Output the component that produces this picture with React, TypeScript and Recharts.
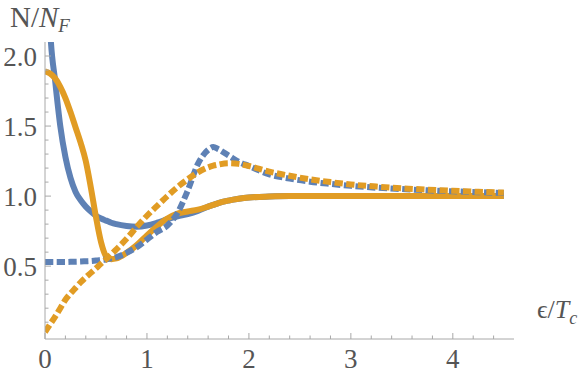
import React from 'react';
import { LineChart, Line, XAxis, YAxis } from 'recharts';

// energy grid (epsilon / T_c)
const eps = [
  0, 0.05, 0.1, 0.15, 0.2, 0.25, 0.3, 0.35, 0.4, 0.45, 0.5, 0.55, 0.6, 0.65, 0.7,
  0.8, 0.9, 1.0, 1.1, 1.2, 1.3, 1.4, 1.5, 1.6, 1.65, 1.7, 1.8, 1.9, 2.0,
  2.2, 2.4, 2.6, 2.8, 3.0, 3.25, 3.5, 3.75, 4.0, 4.25, 4.5,
];

const blueSolid = [
  3.6, 2.2, 1.82, 1.5, 1.28, 1.13, 1.03, 0.97, 0.925, 0.89, 0.86, 0.84, 0.825, 0.81, 0.8,
  0.787, 0.782, 0.79, 0.81, 0.835, 0.855, 0.872, 0.895, 0.925, 0.937, 0.95, 0.968, 0.981, 0.99,
  0.997, 1.0, 1.0, 1.0, 1.0, 1.0, 1.0, 1.0, 1.0, 1.0, 1.0,
];

const orangeSolid = [
  1.89, 1.875, 1.84, 1.78, 1.7, 1.6, 1.49, 1.38, 1.25, 1.06, 0.85, 0.67, 0.57, 0.55, 0.555,
  0.595, 0.65, 0.72, 0.785, 0.84, 0.875, 0.89, 0.903, 0.925, 0.937, 0.95, 0.968, 0.981, 0.99,
  0.997, 1.0, 1.0, 1.0, 1.0, 1.0, 1.0, 1.0, 1.0, 1.0, 1.0,
];

const blueDashed = [
  0.53, 0.53, 0.53, 0.53, 0.53, 0.531, 0.532, 0.533, 0.535, 0.537, 0.54, 0.544, 0.548, 0.555, 0.565,
  0.595, 0.635, 0.69, 0.745, 0.79, 0.88, 1.04, 1.23, 1.33, 1.35, 1.335, 1.29, 1.245, 1.215,
  1.155, 1.125, 1.103, 1.087, 1.073, 1.06, 1.05, 1.041, 1.034, 1.028, 1.022,
];

const orangeDashed = [
  0.03, 0.085, 0.14, 0.2, 0.26, 0.305, 0.345, 0.385, 0.42, 0.452, 0.485, 0.518, 0.55, 0.585, 0.62,
  0.695, 0.78, 0.86, 0.93, 1.0, 1.065, 1.12, 1.17, 1.205, 1.217, 1.225, 1.235, 1.23, 1.215,
  1.175, 1.145, 1.12, 1.1, 1.083, 1.068, 1.056, 1.046, 1.038, 1.031, 1.025,
];

const xTicks = [
  0, 0.2, 0.4, 0.6, 0.8, 1, 1.2, 1.4, 1.6, 1.8, 2, 2.2, 2.4, 2.6, 2.8, 3,
  3.2, 3.4, 3.6, 3.8, 4, 4.2, 4.4,
];
const yTicks = [
  0.1, 0.2, 0.3, 0.4, 0.5, 0.6, 0.7, 0.8, 0.9, 1.0, 1.1, 1.2, 1.3, 1.4, 1.5,
  1.6, 1.7, 1.8, 1.9, 2.0,
];

const data = eps.map((x, i) => ({
  x,
  bs: blueSolid[i],
  os: orangeSolid[i],
  bd: blueDashed[i],
  od: orangeDashed[i],
}));

const BLUE = '#5E81B5';
const ORANGE = '#E19C24';
const AXIS = '#a8a8a8';
const TEXT = '#555555';
const FONT = '"Liberation Serif", "DejaVu Serif", serif';

const isWhole = (v: number, step: number) => Math.abs(v / step - Math.round(v / step)) < 1e-6;

const XTick = (props: any) => {
  const { x, y, payload } = props;
  const v = payload.value;
  const major = isWhole(v, 1);
  return (
    <g>
      <line x1={x} x2={x} y1={y} y2={y - (major ? 6 : 3.5)} stroke={AXIS} />
      {major && (
        <text x={x} y={y + 29} textAnchor="middle" fontSize={27} fill={TEXT} style={{ fontFamily: FONT }}>
          {v}
        </text>
      )}
    </g>
  );
};

const YTick = (props: any) => {
  const { x, y, payload } = props;
  const v = payload.value;
  const major = isWhole(v, 0.5);
  return (
    <g>
      <line x1={x} x2={x + (major ? 6 : 3.5)} y1={y} y2={y} stroke={AXIS} />
      {major && (
        <text x={x - 8} y={y + 10} textAnchor="end" fontSize={27} fill={TEXT} style={{ fontFamily: FONT }}>
          {v.toFixed(1)}
        </text>
      )}
    </g>
  );
};

const dash = '8.3 3.4';

export default function App() {
  return (
    <div style={{ position: 'absolute', left: 0, top: 0, width: 581, height: 378, background: '#fff' }}>
      <LineChart
        width={581}
        height={378}
        data={data}
        margin={{ top: 42, right: 67, bottom: 38, left: 44 }}
      >
        <XAxis
          dataKey="x"
          type="number"
          domain={[0, 4.6]}
          ticks={xTicks}
          interval={0}
          height={1}
          tickSize={0}
          tickMargin={0}
          tickLine={false}
          axisLine={{ stroke: AXIS }}
          tick={<XTick />}
          allowDataOverflow
        />
        <YAxis
          type="number"
          domain={[-0.02, 2.1]}
          ticks={yTicks}
          interval={0}
          width={1}
          tickSize={0}
          tickMargin={0}
          tickLine={false}
          axisLine={{ stroke: AXIS }}
          tick={<YTick />}
          allowDataOverflow
        />
        <Line dataKey="bs" type="monotone" stroke={BLUE} strokeWidth={6} dot={false} isAnimationActive={false} />
        <Line dataKey="os" type="monotone" stroke={ORANGE} strokeWidth={6} dot={false} isAnimationActive={false} />
        <Line dataKey="bd" type="monotone" stroke={BLUE} strokeWidth={6} strokeDasharray={dash} dot={false} isAnimationActive={false} />
        <Line dataKey="od" type="monotone" stroke={ORANGE} strokeWidth={6} strokeDasharray={dash} dot={false} isAnimationActive={false} />
        <text x={10} y={27} fontSize={29} fill={TEXT} style={{ fontFamily: FONT }}>
          N/<tspan fontStyle="italic">N</tspan>
          <tspan fontStyle="italic" fontSize={19} dy={5}>F</tspan>
        </text>
        <text x={537} y={318} fontSize={26} fill={TEXT} style={{ fontFamily: FONT }}>
          ϵ/<tspan fontStyle="italic">T</tspan>
          <tspan fontStyle="italic" fontSize={18} dy={6}>c</tspan>
        </text>
      </LineChart>
    </div>
  );
}
